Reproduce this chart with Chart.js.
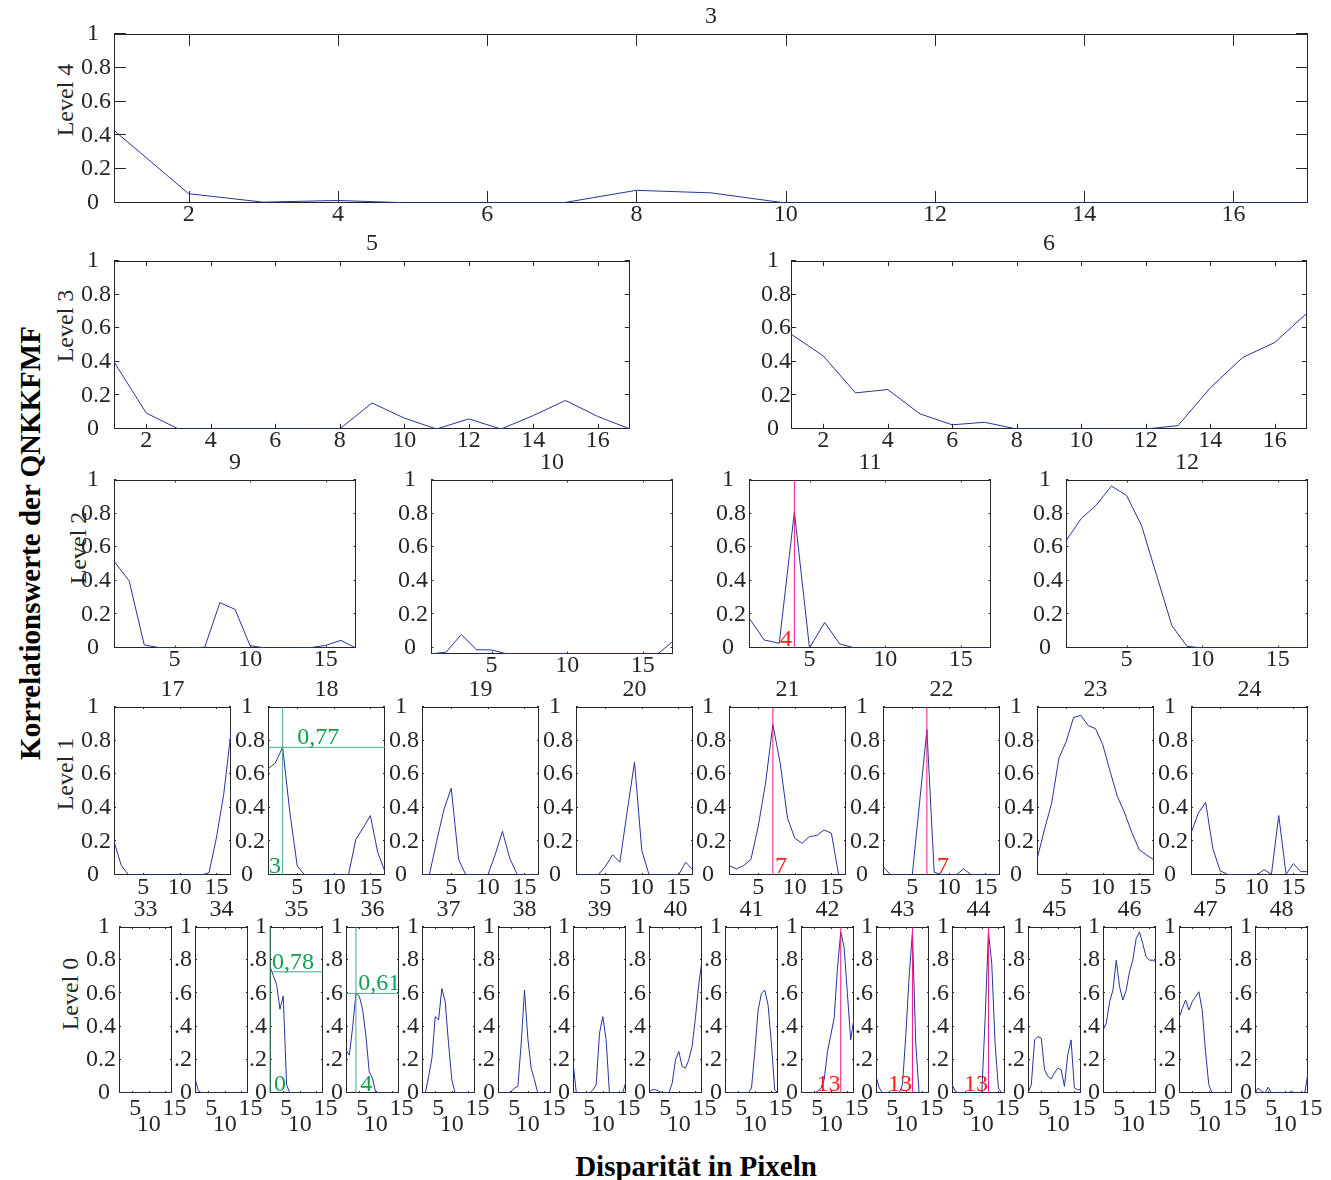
<!DOCTYPE html>
<html>
<head>
<meta charset="utf-8">
<title>Korrelationswerte der QNKKFMF</title>
<script src="https://cdn.jsdelivr.net/npm/chart.js"></script>
<style>
  body { margin: 0; background: #fff; }
  #abb { position: relative; width: 1331px; height: 1180px; overflow: hidden;
         font-family: "Liberation Serif", "Times New Roman", serif; color: #262626; }
  #abb canvas { position: absolute; }
  .dreh { position: absolute; white-space: nowrap; font-size: 24px;
          transform: translate(-50%, -50%) rotate(-90deg); }
  .fett { font-weight: bold; font-size: 29px; color: #000; }
  #xtitel { position: absolute; left: 696px; top: 1166px; white-space: nowrap;
            transform: translate(-50%, -50%); }
</style>
</head>
<body>
<div id="abb">
  <div class="dreh fett" style="left:30px; top:543px;">Korrelationswerte der QNKKFMF</div>
  <div id="xtitel" class="fett">Disparität in Pixeln</div>
</div>
<script>
// x-Werte (Disparitaet 1..17) und Achsenbeschriftungen
const disparitaet = [1, 2, 3, 4, 5, 6, 7, 8, 9, 10, 11, 12, 13, 14, 15, 16, 17];
const ticksGross = [2, 4, 6, 8, 10, 12, 14, 16];
const ticksKlein = [5, 10, 15];
const yTicks = [0, 0.2, 0.4, 0.6, 0.8, 1];

// Level 4
const werte3 = [0.43, 0.055, 0.005, 0.015, 0, 0, 0, 0.075, 0.06, 0, 0, 0, 0, 0, 0, 0, 0];
// Level 3
const werte5 = [0.40, 0.095, 0, 0, 0, 0, 0, 0, 0.155, 0.065, 0, 0.06, 0, 0.08, 0.17, 0.075, 0];
const werte6 = [0.565, 0.435, 0.215, 0.235, 0.09, 0.025, 0.04, 0, 0, 0, 0, 0, 0.02, 0.245, 0.425, 0.515, 0.69];
// Level 2
const werte9 = [0.517, 0.40, 0.018, 0.002, 0, 0, 0.005, 0.27, 0.23, 0.014, 0, 0, 0, 0.002, 0.016, 0.045, 0];
const werte10 = [-0.035, -0.025, 0.08, -0.01, -0.012, -0.035, -0.035, -0.035, -0.035, -0.035, -0.035, -0.035, -0.035, -0.035, -0.035, -0.035, 0.04];
const werte11 = [0.18, 0.048, 0.028, 0.81, 0, 0.152, 0.024, 0, 0, 0, 0, 0, 0, 0, 0, 0, 0];
const werte12 = [0.638, 0.77, 0.85, 0.964, 0.909, 0.727, 0.43, 0.133, 0.01, 0, 0, 0, 0, 0, 0, 0, 0];
// Level 1
const werte17 = [0.2, 0.056, 0, 0, 0, 0, 0, 0, 0, 0, 0, 0, 0, 0.014, 0.22, 0.48, 0.85];
const werte18 = [0.632, 0.666, 0.76, 0.368, 0.054, 0, 0, 0, 0, 0, 0, 0, 0.21, 0.28, 0.354, 0.135, 0.02];
const werte19 = [0, 0, 0.2, 0.39, 0.517, 0.093, 0, 0, 0, 0, 0.12, 0.26, 0.1, 0.004, 0, 0, 0];
const werte20 = [0, 0, 0, 0, 0.05, 0.12, 0.076, 0.378, 0.672, 0.145, 0, 0, 0, 0, 0, 0.076, 0.03];
const werte21 = [0.056, 0.036, 0.056, 0.093, 0.29, 0.547, 0.895, 0.666, 0.338, 0.219, 0.189, 0.229, 0.235, 0.268, 0.249, 0, 0];
const werte22 = [0.05, 0.004, 0, 0, 0, 0.43, 0.865, 0.016, 0.004, 0, 0, 0.036, 0.004, 0, 0, 0, 0];
const werte23 = [0.093, 0.268, 0.427, 0.696, 0.795, 0.938, 0.95, 0.889, 0.871, 0.775, 0.616, 0.467, 0.368, 0.249, 0.149, 0.119, 0.089];
const werte24 = [0.249, 0.368, 0.433, 0.155, 0.024, 0.004, 0, 0, 0, 0, 0.032, 0.004, 0.354, 0.004, 0.068, 0.02, 0.02];
// Level 0
const werte33 = [0, 0, 0, 0, 0, 0, 0, 0, 0, 0, 0, 0, 0, 0, 0, 0, 0];
const werte34 = [0.089, 0.014, 0, 0, 0, 0, 0, 0, 0, 0, 0, 0, 0, 0, 0, 0, 0];
const werte35 = [0.762, 0.707, 0.653, 0.505, 0.584, 0.05, 0, 0, 0, 0, 0, 0, 0, 0, 0, 0, 0];
const werte36 = [0.257, 0.228, 0.396, 0.6, 0.584, 0.505, 0.347, 0.129, 0.089, 0, 0, 0, 0, 0, 0, 0, 0];
const werte37 = [0, 0, 0.1, 0.21, 0.46, 0.44, 0.63, 0.55, 0.3, 0.08, 0, 0, 0, 0, 0, 0, 0];
const werte38 = [0, 0, 0, 0, 0.01, 0.03, 0.04, 0.3, 0.62, 0.33, 0.15, 0.08, 0, 0, 0, 0, 0];
const werte39 = [0.19, 0, 0, 0, 0, 0, 0.02, 0.05, 0.36, 0.46, 0.32, 0, 0, 0, 0, 0, 0.07];
const werte40 = [0.005, 0.02, 0.02, 0.01, 0, 0, 0, 0.06, 0.2, 0.25, 0.16, 0.15, 0.2, 0.28, 0.45, 0.65, 0.8];
const werte41 = [0, 0, 0, 0, 0, 0, 0, 0, 0.03, 0.25, 0.5, 0.6, 0.62, 0.53, 0.3, 0.02, 0];
const werte42 = [0, 0, 0, 0, 0, 0.01, 0.03, 0.08, 0.25, 0.35, 0.45, 0.75, 0.97, 0.88, 0.6, 0.32, 0.45];
const werte43 = [0.1, 0.03, 0, 0, 0, 0, 0, 0, 0.05, 0.35, 0.7, 0.97, 0.3, 0, 0, 0, 0];
const werte44 = [0.05, 0.01, 0, 0, 0, 0, 0, 0, 0, 0, 0.45, 0.97, 0.78, 0.3, 0.03, 0, 0];
const werte45 = [0, 0.05, 0.32, 0.34, 0.33, 0.14, 0.1, 0.085, 0.12, 0.15, 0.14, 0.04, 0.23, 0.32, 0.03, 0.02, 0.02];
const werte46 = [0.38, 0.42, 0.55, 0.62, 0.8, 0.64, 0.56, 0.62, 0.73, 0.8, 0.93, 0.97, 0.9, 0.82, 0.8, 0.8, 0.79];
const werte47 = [0.45, 0.51, 0.56, 0.5, 0.55, 0.58, 0.61, 0.5, 0.25, 0.05, 0, 0, 0, 0, 0, 0, 0];
const werte48 = [0, 0.03, 0.01, 0, 0.035, 0, 0, 0.005, 0, 0, 0, 0.01, 0, 0, 0, 0, 0.12];

// Markierungen: magenta Linie + rote Zahl
const pinkPlots = [11, 21, 22, 42, 43, 44];
const pinkX = [4, 7, 7, 13, 12, 12];
const rotText = ['4', '7', '7', '13', '13', '13'];
const rotTextX = [3.85, 7.3, 8.4, 12.9, 11.9, 11.9];
const rotAlign = ['right', 'left', 'left', 'right', 'right', 'right'];

// Markierungen: gruenes Fadenkreuz + Werte
const gruenPlots = [18, 35, 36];
const gruenX = [3, 1, 4];
const gruenY = [0.76, 0.73, 0.6];
const gruenWertText = ['0,77', '0,78', '0,61'];
const gruenWertX = [5, 1.6, 4.7];
const gruenXText = ['3', '0', '4'];
const gruenXTextX = [1.15, 2.2, 5.3];

// Plot 10 reicht etwas unter 0
const yUntergrenze = { 10: -0.036 };

const werte = {
  3: werte3, 5: werte5, 6: werte6, 9: werte9, 10: werte10, 11: werte11, 12: werte12,
  17: werte17, 18: werte18, 19: werte19, 20: werte20, 21: werte21, 22: werte22, 23: werte23, 24: werte24,
  33: werte33, 34: werte34, 35: werte35, 36: werte36, 37: werte37, 38: werte38, 39: werte39, 40: werte40,
  41: werte41, 42: werte42, 43: werte43, 44: werte44, 45: werte45, 46: werte46, 47: werte47, 48: werte48
};

const BLAU = '#25349b';
const PINK = '#f0148c';
const ROT = '#ff1a1a';
const GRUEN_TEXT = '#0ea04f';
const GRUEN_LINIE = '#45a88a';
const ACHSE = '#262626';
const SCHRIFT = '"Liberation Serif", "Times New Roman", serif';

// Zeilen des Bildes (Position der Achsenkaesten)
function reihe(start, schritt, n) {
  const r = [];
  for (let i = 0; i < n; i++) r.push(Math.round(start + i * schritt));
  return r;
}
const zeilen = [
  { level: 'Level 4', levelPos: [65, 100], ids: [3], top: 34, hoehe: 169, links: [114], breite: 1194, xTicks: ticksGross, rand: 56, rechts: 16, xPad: 0, xLh: 1 },
  { level: 'Level 3', levelPos: [65, 326], ids: [5, 6], top: 261, hoehe: 168, links: [114, 791], breite: 516, xTicks: ticksGross, rand: 56, rechts: 16, xPad: 0, xLh: 1 },
  { level: 'Level 2', levelPos: [78, 548], ids: [9, 10, 11, 12], top: 480, hoehe: 168, links: reihe(114, 317.4, 4), breite: 242, xTicks: ticksKlein, rand: 56, rechts: 16, xPad: 0, xLh: 1 },
  { level: 'Level 1', levelPos: [65, 774], ids: [17, 18, 19, 20, 21, 22, 23, 24], top: 707, hoehe: 168, links: reihe(114, 153.86, 8), breite: 117, xTicks: ticksKlein, rand: 56, rechts: 16, xPad: 1, xLh: 1 },
  { level: 'Level 0', levelPos: [70, 994], ids: [33, 34, 35, 36, 37, 38, 39, 40, 41, 42, 43, 44, 45, 46, 47, 48], top: 927, hoehe: 166, links: reihe(119, 75.73, 16), breite: 53, xTicks: ticksKlein, rand: 40, rechts: 40, xPad: 7, xLh: 0.7, gestaffelt: true }
];

// Kasten mit nach innen zeigenden Ticks + Beschriftungen
const rahmen = {
  id: 'rahmen',
  beforeDatasetsDraw(chart) {
    const { ctx, chartArea: a, scales: { x, y } } = chart;
    const len = Math.max(2, Math.max(a.width, a.height) * 0.01);
    ctx.save();
    ctx.strokeStyle = ACHSE;
    ctx.lineWidth = 1;
    ctx.beginPath();
    x.ticks.forEach(t => {
      const px = Math.round(x.getPixelForValue(t.value)) + 0.5;
      ctx.moveTo(px, a.bottom); ctx.lineTo(px, a.bottom - len);
      ctx.moveTo(px, a.top); ctx.lineTo(px, a.top + len);
    });
    y.ticks.forEach(t => {
      const py = Math.round(y.getPixelForValue(t.value)) - 0.5;
      ctx.moveTo(a.left, py); ctx.lineTo(a.left + len, py);
      ctx.moveTo(a.right, py); ctx.lineTo(a.right - len, py);
    });
    ctx.stroke();
    ctx.strokeRect(a.left + 0.5, a.top + 0.5, a.width - 1, a.height - 1);
    ctx.restore();
  },
  afterDatasetsDraw(chart, args, opts) {
    const { ctx, scales: { x, y } } = chart;
    (opts.texte || []).forEach(t => {
      ctx.save();
      ctx.font = '24px ' + SCHRIFT;
      ctx.fillStyle = t.farbe;
      ctx.textAlign = t.align;
      ctx.textBaseline = 'alphabetic';
      ctx.fillText(t.text, x.getPixelForValue(t.x), y.getPixelForValue(t.y) - t.dy);
      ctx.restore();
    });
  }
};

function linie(x1, y1, x2, y2, farbe) {
  return {
    data: [{ x: x1, y: y1 }, { x: x2, y: y2 }],
    borderColor: farbe, borderWidth: 1, pointRadius: 0, order: 0, clip: false
  };
}

const abb = document.getElementById('abb');
const O = 33, U = 60;

zeilen.forEach(z => {
  const lbl = document.createElement('div');
  lbl.className = 'dreh';
  lbl.textContent = z.level;
  lbl.style.left = z.levelPos[0] + 'px';
  lbl.style.top = z.levelPos[1] + 'px';
  abb.appendChild(lbl);

  z.ids.forEach((id, i) => {
    const L = z.rand, R = z.rechts;
    const yMin = yUntergrenze[id] !== undefined ? yUntergrenze[id] : 0;
    // Kasten nach unten verlaengern, wenn die y-Achse unter 0 beginnt
    const hoehe = Math.round(z.hoehe * (1 - yMin));
    const cv = document.createElement('canvas');
    cv.width = L + z.breite + R;
    cv.height = O + hoehe + U;
    cv.style.left = (z.links[i] - L) + 'px';
    cv.style.top = (z.top - O) + 'px';
    abb.appendChild(cv);

    const kurz = z.gestaffelt && i > 0;
    const datasets = [{ data: werte[id], borderColor: BLAU, borderWidth: 1, pointRadius: 0, order: 1 }];
    const texte = [];

    const p = pinkPlots.indexOf(id);
    if (p >= 0) {
      datasets.push(linie(pinkX[p], 0, pinkX[p], 1, PINK));
      texte.push({ text: rotText[p], x: rotTextX[p], y: 0, dy: 2, align: rotAlign[p], farbe: ROT });
    }
    const g = gruenPlots.indexOf(id);
    if (g >= 0) {
      datasets.push(linie(gruenX[g], 0, gruenX[g], 1, GRUEN_LINIE));
      datasets.push(linie(1, gruenY[g], 17, gruenY[g], GRUEN_LINIE));
      texte.push({ text: gruenWertText[g], x: gruenWertX[g], y: gruenY[g], dy: 3, align: 'left', farbe: GRUEN_TEXT });
      texte.push({ text: gruenXText[g], x: gruenXTextX[g], y: 0, dy: 2, align: 'left', farbe: GRUEN_TEXT });
    }

    new Chart(cv, {
      type: 'line',
      data: { labels: disparitaet, datasets },
      options: {
        responsive: false,
        animation: false,
        events: [],
        layout: { padding: { left: 0, right: R, top: 0, bottom: 0 } },
        plugins: {
          legend: { display: false },
          tooltip: { enabled: false },
          title: {
            display: true, text: String(id), fullSize: false, color: ACHSE,
            font: { family: SCHRIFT, size: 24, weight: 'normal', lineHeight: 1 },
            padding: { top: 4, bottom: 5 }
          },
          rahmen: { texte }
        },
        scales: {
          x: {
            type: 'linear', min: 1, max: 17,
            grid: { display: false, drawTicks: false },
            border: { display: false },
            afterBuildTicks: s => { s.ticks = z.xTicks.map(v => ({ value: v })); },
            afterFit: s => { s.height = U; },
            ticks: {
              autoSkip: false, maxRotation: 0, minRotation: 0, padding: z.xPad, color: ACHSE,
              font: { family: SCHRIFT, size: 24, lineHeight: z.xLh },
              callback: v => {
                if (!z.gestaffelt) return String(v);
                if (v === 10) return ['', '10'];
                return v === 15 ? '\u2002 15' : ' 5';
              }
            }
          },
          y: {
            min: yMin, max: 1,
            grid: { display: false, drawTicks: false },
            border: { display: false },
            afterBuildTicks: s => { s.ticks = yTicks.map(v => ({ value: v })); },
            afterFit: s => { s.width = L; },
            ticks: {
              padding: id === 6 ? 0 : 3, color: ACHSE,
              font: { family: SCHRIFT, size: 24, lineHeight: 1 },
              callback: v => {
                const r = Math.round(v * 10) / 10;
                if (r === 0 || r === 1) {
                  const s = String(r);
                  if (kurz) return s;
                  return z.gestaffelt ? s + ' ' : s + '  ';
                }
                const s = r.toFixed(1);
                return kurz ? s.slice(1) : s;
              }
            }
          }
        }
      },
      plugins: [rahmen]
    });
  });
});
</script>
</body>
</html>
